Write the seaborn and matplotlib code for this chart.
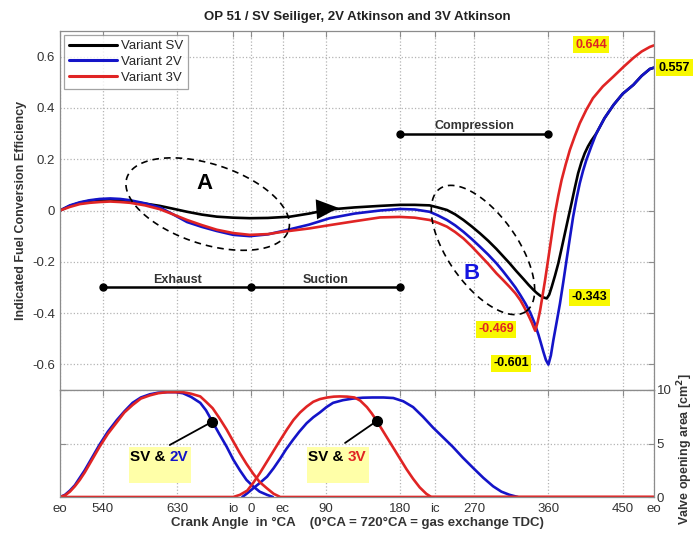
import numpy as np
import pandas as pd
import matplotlib
matplotlib.use("Agg")
import matplotlib.pyplot as plt
import seaborn as sns
from matplotlib.patches import Rectangle

# Crank angle in °CA, unwrapped from exhaust opening (eo) to the next eo
tick_pos = [488, 540, 630, 698, 720, 758, 810, 900, 942, 990, 1080, 1170, 1208]
tick_lbl = ["eo", "540", "630", "io", "0", "ec", "90", "180", "ic", "270", "360", "450", "eo"]

# Indicated fuel conversion efficiency per variant
sv_angle = [488, 500, 512, 524, 536, 549, 561, 573, 591, 609, 625, 642, 660, 678, 698, 718,
            740, 767, 790, 815, 845, 876, 900, 918, 936, 946, 957, 967, 977, 987, 997, 1007,
            1017, 1025, 1033, 1041, 1050, 1056, 1062, 1066, 1070, 1074, 1078, 1081, 1084,
            1088, 1092, 1096, 1100, 1104, 1108, 1112, 1116, 1120, 1124, 1128, 1132, 1138,
            1148, 1159, 1170, 1183, 1193, 1203, 1208]
sv_eff = [0, 0.018, 0.03, 0.038, 0.042, 0.043, 0.04, 0.035, 0.027, 0.018, 0.007, -0.005,
          -0.016, -0.024, -0.028, -0.03, -0.029, -0.024, -0.012, 0.004, 0.012, 0.018, 0.022,
          0.022, 0.02, 0.012, 0.002, -0.015, -0.037, -0.062, -0.089, -0.118, -0.15, -0.178,
          -0.206, -0.236, -0.268, -0.29, -0.31, -0.322, -0.332, -0.339, -0.343, -0.328,
          -0.298, -0.254, -0.206, -0.148, -0.089, -0.03, 0.028, 0.088, 0.145, 0.188, 0.223,
          0.25, 0.272, 0.30, 0.36, 0.412, 0.455, 0.49, 0.525, 0.552, 0.557]

v2_angle = [488, 500, 512, 524, 536, 549, 561, 573, 591, 609, 625, 642, 660, 678, 698, 718,
            740, 758, 790, 815, 845, 876, 900, 918, 936, 946, 957, 967, 977, 987, 997, 1007,
            1017, 1025, 1033, 1040, 1046, 1052, 1058, 1063, 1068, 1071, 1074, 1077, 1080,
            1083, 1086, 1090, 1094, 1098, 1102, 1106, 1110, 1114, 1118, 1122, 1126, 1132,
            1138, 1148, 1159, 1170, 1183, 1193, 1203, 1208]
v2_eff = [0, 0.02, 0.032, 0.04, 0.045, 0.047, 0.045, 0.04, 0.028, 0.012, -0.015, -0.045,
          -0.064, -0.08, -0.095, -0.1, -0.093, -0.08, -0.055, -0.03, -0.012, 0.0, 0.006,
          0.004, -0.005, -0.019, -0.037, -0.058, -0.083, -0.111, -0.141, -0.172, -0.206,
          -0.237, -0.27, -0.30, -0.33, -0.362, -0.398, -0.437, -0.485, -0.518, -0.552,
          -0.583, -0.601, -0.565, -0.506, -0.435, -0.363, -0.28, -0.193, -0.108, -0.024,
          0.045, 0.106, 0.155, 0.197, 0.25, 0.30, 0.36, 0.412, 0.455, 0.49, 0.525, 0.552,
          0.557]

v3_angle = [488, 500, 512, 524, 536, 549, 561, 573, 591, 609, 625, 642, 660, 678, 698, 718,
            740, 758, 790, 815, 845, 876, 900, 918, 936, 946, 957, 967, 977, 987, 997, 1007,
            1017, 1025, 1033, 1040, 1046, 1050, 1054, 1057, 1060, 1062, 1064, 1067, 1070,
            1073, 1076, 1079, 1082, 1085, 1088, 1092, 1096, 1101, 1106, 1112, 1118, 1126,
            1134, 1146, 1159, 1171, 1183, 1193, 1203, 1208]
v3_eff = [0, 0.014, 0.025, 0.03, 0.033, 0.035, 0.033, 0.03, 0.02, 0.005, -0.015, -0.037,
          -0.057, -0.075, -0.088, -0.095, -0.092, -0.083, -0.07, -0.057, -0.042, -0.027,
          -0.025, -0.028, -0.037, -0.048, -0.063, -0.084, -0.109, -0.14, -0.174, -0.208,
          -0.245, -0.271, -0.298, -0.323, -0.35, -0.373, -0.397, -0.417, -0.438, -0.454,
          -0.469, -0.435, -0.389, -0.33, -0.271, -0.206, -0.141, -0.075, -0.011, 0.058,
          0.119, 0.18, 0.236, 0.29, 0.34, 0.393, 0.438, 0.484, 0.523, 0.56, 0.595, 0.62,
          0.638, 0.644]

# Valve opening area in cm²
ex_2v_angle = [488, 494, 500, 506, 512, 518, 524, 530, 536, 546, 557, 566, 576, 586, 597,
               607, 618, 628, 637, 647, 658, 665, 673, 681, 690, 698, 706, 714, 722, 730,
               739, 746]
ex_2v_area = [0, 0.2, 0.6, 1.1, 1.8, 2.5, 3.3, 4.1, 4.9, 6.1, 7.2, 8.0, 8.8, 9.3, 9.6,
              9.75, 9.8, 9.8, 9.7, 9.35, 8.8, 8.1, 7.0, 5.9, 4.7, 3.5, 2.5, 1.6, 1.0, 0.5,
              0.2, 0]
ex_3v_angle = [488, 494, 500, 506, 512, 518, 524, 530, 536, 546, 557, 566, 576, 586, 597,
               607, 618, 628, 637, 647, 658, 665, 673, 681, 690, 698, 706, 714, 722, 730,
               739, 747, 755, 1208]
ex_3v_area = [0, 0.15, 0.5, 1.0, 1.6, 2.3, 3.1, 3.9, 4.7, 5.9, 7.0, 7.9, 8.6, 9.2, 9.5,
              9.7, 9.8, 9.8, 9.8, 9.65, 9.4, 8.9, 8.3, 7.4, 6.3, 5.2, 4.1, 3.1, 2.2, 1.4,
              0.8, 0.3, 0, 0]
in_2v_angle = [709, 715, 722, 730, 739, 747, 755, 762, 770, 778, 787, 795, 803, 811, 819,
               831, 843, 855, 867, 880, 892, 904, 916, 928, 940, 952, 964, 976, 989, 1001,
               1013, 1023, 1033, 1043]
in_2v_area = [0, 0.35, 0.8, 1.3, 1.9, 2.7, 3.6, 4.45, 5.3, 6.1, 6.9, 7.45, 7.9, 8.4, 8.8,
              9.05, 9.2, 9.28, 9.3, 9.3, 9.25, 8.95, 8.4, 7.5, 6.5, 5.6, 4.7, 3.7, 2.7, 1.8,
              1.0, 0.5, 0.2, 0]
in_3v_angle = [488, 698, 706, 715, 722, 730, 738, 746, 754, 763, 771, 779, 787, 795, 803,
               812, 820, 827, 836, 845, 852, 860, 866, 872, 878, 884, 892, 900, 908, 916,
               924, 932, 938, 1208]
in_3v_area = [0, 0, 0.2, 0.6, 1.3, 2.2, 3.2, 4.2, 5.2, 6.3, 7.2, 7.9, 8.45, 8.9, 9.15, 9.3,
              9.38, 9.4, 9.38, 9.3, 9.0, 8.4, 7.8, 7.1, 6.35, 5.6, 4.6, 3.6, 2.6, 1.7, 0.9,
              0.3, 0, 0]

BLUE = "#1414c8"
RED = "#e02424"
GRID = "#b4b4b4"
FRAME = "#8c8c8c"
TXT = "#333333"

sns.set_style("white")
plt.rcParams["font.family"] = ["Liberation Sans", "DejaVu Sans"]

eff = pd.concat([
    pd.DataFrame({"angle": sv_angle, "eff": sv_eff, "variant": "Variant SV"}),
    pd.DataFrame({"angle": v2_angle, "eff": v2_eff, "variant": "Variant 2V"}),
    pd.DataFrame({"angle": v3_angle, "eff": v3_eff, "variant": "Variant 3V"}),
])
valves = pd.concat([
    pd.DataFrame({"angle": ex_2v_angle, "area": ex_2v_area, "valve": "exhaust SV & 2V"}),
    pd.DataFrame({"angle": in_2v_angle, "area": in_2v_area, "valve": "intake 2V"}),
    pd.DataFrame({"angle": ex_3v_angle, "area": ex_3v_area, "valve": "exhaust 3V"}),
    pd.DataFrame({"angle": in_3v_angle, "area": in_3v_area, "valve": "intake SV & 3V"}),
])

W, H = 694, 540
fig = plt.figure(figsize=(W / 100, H / 100), dpi=100)
L, R = 60, 654
ax = fig.add_axes([L / W, 1 - 390 / H, (R - L) / W, (390 - 31) / H])
ax2 = fig.add_axes([L / W, 1 - 497 / H, (R - L) / W, (497 - 390) / H])

XMIN, XMAX = 488, 1208
YMIN, YMAX = -0.7, 0.7

sns.lineplot(data=eff, x="angle", y="eff", hue="variant", estimator=None, sort=False,
             palette={"Variant SV": "black", "Variant 2V": BLUE, "Variant 3V": RED},
             hue_order=["Variant SV", "Variant 2V", "Variant 3V"],
             linewidth=1.9, ax=ax, legend=True)
sns.lineplot(data=valves, x="angle", y="area", hue="valve", estimator=None, sort=False,
             palette={"exhaust SV & 2V": BLUE, "intake 2V": BLUE,
                      "exhaust 3V": RED, "intake SV & 3V": RED},
             hue_order=["exhaust SV & 2V", "intake 2V", "exhaust 3V", "intake SV & 3V"],
             linewidth=1.9, ax=ax2, legend=False)

for a in (ax, ax2):
    a.set_xlim(XMIN, XMAX)
    a.set_xticks(tick_pos)
    a.grid(True, linestyle=":", color=GRID, linewidth=0.9)
    for s in a.spines.values():
        s.set_color(FRAME)
        s.set_linewidth(0.9)
    a.tick_params(direction="in", length=4, color=FRAME, labelcolor=TXT, labelsize=9.5,
                  top=True, right=True)
    a.set_axisbelow(True)

ax.set_ylim(YMIN, YMAX)
ax.set_yticks([-0.6, -0.4, -0.2, 0, 0.2, 0.4, 0.6])
ax.set_yticklabels(["-0.6", "-0.4", "-0.2", "0", "0.2", "0.4", "0.6"])
ax.set_xticklabels([])
ax.set_xlabel("")
ax.set_ylabel("Indicated Fuel Conversion Efficiency", fontsize=9, fontweight="bold",
              color=TXT, labelpad=4)
ax.set_title("OP 51 / SV Seiliger, 2V Atkinson and 3V Atkinson", fontsize=9.5,
             fontweight="bold", color="#222222", pad=8)

ax2.set_ylim(0, 10)
ax2.set_yticks([0, 5, 10])
ax2.yaxis.tick_right()
ax2.yaxis.set_label_position("right")
ax2.tick_params(axis="y", left=True, right=True, labelleft=False, labelright=True, pad=2)
ax2.set_xticklabels(tick_lbl)
ax2.tick_params(axis="x", pad=4)
ax2.set_xlabel("Crank Angle  in °CA    (0°CA = 720°CA = gas exchange TDC)", fontsize=9.5,
               fontweight="bold", color=TXT, labelpad=2)
ax2.set_ylabel("Valve opening area [cm$^\\mathbf{2}$]", fontsize=9, fontweight="bold",
               color=TXT, labelpad=3)
ax2.yaxis.label.set_y(0.45)

# legend
handles, labels = ax.get_legend_handles_labels()
leg = ax.legend(handles, labels, loc="upper left", frameon=True, fancybox=False,
                edgecolor=FRAME, fontsize=9.5, handlelength=3.6, handletextpad=0.3,
                borderaxespad=0.3, borderpad=0.4, labelspacing=0.25)
leg.get_frame().set_linewidth(0.9)
for h in leg.get_lines():
    h.set_linewidth(2.2)

# pixel -> data scaling for drawing shapes in screen proportions
sx = (R - L) / (XMAX - XMIN)
sy = (390 - 31) / (YMAX - YMIN)


def dashed_ellipse(cx, cy, a_px, b_px, ang):
    t = np.linspace(0, 2 * np.pi, 200)
    th = np.radians(ang)
    dx = a_px * np.cos(t) * np.cos(th) - b_px * np.sin(t) * np.sin(th)
    dy = a_px * np.cos(t) * np.sin(th) + b_px * np.sin(t) * np.cos(th)
    ax.plot(cx + dx / sx, cy + dy / sy, color="black", lw=1.2, ls=(0, (4, 3)))


dashed_ellipse(667, 0.025, 85, 40, -18)
dashed_ellipse(1000.7, -0.154, 75, 35, -55)
ax.text(663, 0.105, "A", fontsize=16, fontweight="bold", color="black", ha="center", va="center")
ax.text(987, -0.244, "B", fontsize=16, fontweight="bold", color="#1414e0", ha="center", va="center")

# direction arrow on the SV curve
ax.annotate("", xy=(829, 0.011), xytext=(810, 0.007),
            arrowprops=dict(arrowstyle="-|>,head_length=1.0,head_width=0.45", color="black",
                            lw=0, mutation_scale=16))

# stroke bars
ax.plot([540, 720, 900], [-0.3, -0.3, -0.3], color="black", lw=1.8, marker="o", ms=5)
ax.plot([900, 1080], [0.3, 0.3], color="black", lw=1.8, marker="o", ms=5)
for x, y, s in [(630, -0.27, "Exhaust"), (810, -0.27, "Suction"), (990, 0.33, "Compression")]:
    ax.text(x, y, s, fontsize=9, fontweight="bold", color=TXT, ha="center", va="center")

# value tags
box = dict(boxstyle="square,pad=0.2", fc="#f8f800", ec="none")
for x, y, s, c in [(1131.6, 0.646, "0.644", RED), (1233, 0.557, "0.557", "black"),
                   (1130, -0.338, "-0.343", "black"), (1016.5, -0.463, "-0.469", RED),
                   (1034.7, -0.596, "-0.601", "black")]:
    ax.text(x, y, s, fontsize=9, fontweight="bold", color=c, ha="center", va="center",
            bbox=box, clip_on=False)

# valve profile callouts
for (bx, dot, tip, tag, tc) in [(571.6, (672.6, 7.04), (621, 4.86), "2V", BLUE),
                                (787.4, (872, 7.1), (833.5, 5.05), "3V", RED)]:
    ax2.add_patch(Rectangle((bx, 1.31), 75.2, 3.36, fc="#ffffa8", ec="none", zorder=3))
    ax2.plot([tip[0], dot[0]], [tip[1], dot[1]], color="black", lw=1.3, zorder=4)
    ax2.plot([dot[0]], [dot[1]], "o", color="black", ms=7, zorder=5)
    t1 = ax2.text(bx + 1.5, 3.75, "SV & ", fontsize=11, fontweight="bold", color="black",
                  ha="left", va="center", zorder=5)
    ax2.annotate(tag, xy=(1, 0.5), xycoords=t1, fontsize=11, fontweight="bold", color=tc,
                 ha="left", va="center", zorder=5)

fig.savefig("out.png", dpi=100)
